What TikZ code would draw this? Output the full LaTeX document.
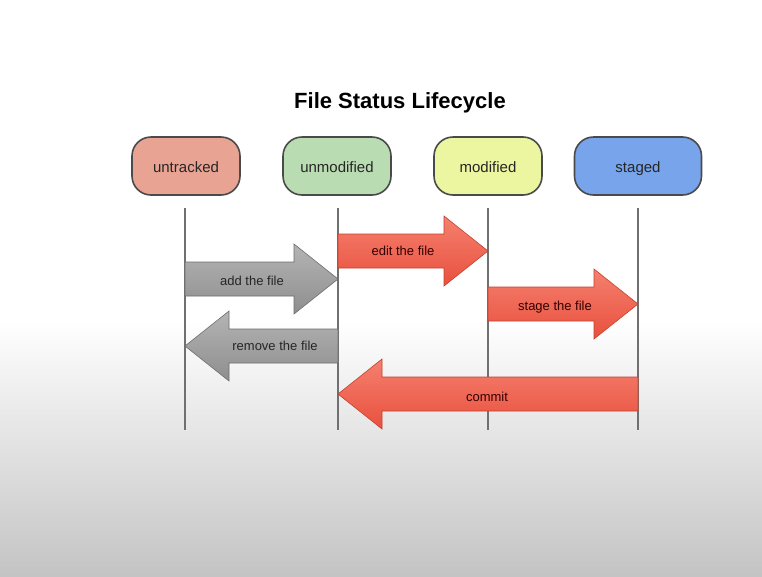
\documentclass[tikz,border=0pt]{standalone}
\usepackage{fontspec}
\setmainfont{Liberation Sans}
\definecolor{bgbot}{HTML}{C4C4C4}
\definecolor{boxborder}{HTML}{4A4A4A}
\definecolor{lifegray}{HTML}{707070}
\definecolor{untrackedc}{HTML}{E8A393}
\definecolor{unmodifiedc}{HTML}{BADCB2}
\definecolor{modifiedc}{HTML}{ECF5A0}
\definecolor{stagedc}{HTML}{78A4EC}
\definecolor{redtop}{HTML}{F5806E}
\definecolor{redbot}{HTML}{E9503E}
\definecolor{redborder}{HTML}{C4412F}
\definecolor{graytop}{HTML}{B4B4B4}
\definecolor{graybot}{HTML}{8E8E8E}
\definecolor{grayborder}{HTML}{6E6E6E}
\newcommand\fatarrow[5]{%
  \draw[#5] (#1,{#3-17}) -- ({#2-(#4)},{#3-17}) -- ({#2-(#4)},{#3-35}) -- (#2,#3)
    -- ({#2-(#4)},{#3+35}) -- ({#2-(#4)},{#3+17}) -- (#1,{#3+17}) -- cycle;}
\begin{document}
\begin{tikzpicture}[x=1pt,y=-1pt,
  state/.style={draw=boxborder, line width=1.6pt, rounded corners=19pt,
    minimum width=108pt, minimum height=58pt, inner sep=0pt,
    text height=12pt, text depth=0pt,
    font=\fontsize{15}{18}\selectfont, text=black!85},
  life/.style={draw=lifegray, line width=1.4pt},
  redarrow/.style={top color=redtop, bottom color=redbot, draw=redborder, line width=0.6pt},
  grayarrow/.style={top color=graytop, bottom color=graybot, draw=grayborder, line width=0.6pt},
  redlbl/.style={font=\fontsize{13}{15}\selectfont, text=black!80!red,
    text height=10pt, text depth=1pt},
  graylbl/.style={font=\fontsize{13}{15}\selectfont, text=black!85,
    text height=10pt, text depth=1pt},
  title/.style={font=\fontsize{22}{26}\selectfont\bfseries, text=black}]
\useasboundingbox (0,0) rectangle (762,576);
\fill[white] (0,0) rectangle (762,576);
\shade[top color=white, bottom color=bgbot] (0,320) rectangle (762,576);

\node[title] (title) at (400,103) {File Status Lifecycle};

\node[state, fill=untrackedc] (untracked) at (186,166) {untracked};
\node[state, fill=unmodifiedc] (unmodified) at (337,166) {unmodified};
\node[state, fill=modifiedc] (modified) at (488,166) {modified};
\node[state, fill=stagedc, minimum width=127pt] (staged) at (638,166) {staged};

\coordinate (u1) at (185,208); \coordinate (u2) at (185,430);
\coordinate (n1) at (338,208); \coordinate (n2) at (338,430);
\coordinate (m1) at (488,208); \coordinate (m2) at (488,430);
\coordinate (s1) at (638,208); \coordinate (s2) at (638,430);
\draw[life] (u1) -- (u2);
\draw[life] (n1) -- (n2);
\draw[life] (m1) -- (m2);
\draw[life] (s1) -- (s2);

\fatarrow{338}{488}{251}{44}{redarrow}
\node[redlbl] (edit) at (403,251) {edit the file};

\fatarrow{185}{338}{279}{44}{grayarrow}
\node[graylbl] (add) at (252,281) {add the file};

\fatarrow{488}{638}{304}{44}{redarrow}
\node[redlbl] (stage) at (555,306) {stage the file};

\fatarrow{338}{185}{346}{-44}{grayarrow}
\node[graylbl] (remove) at (275,346) {remove the file};

\fatarrow{638}{338}{394}{-44}{redarrow}
\node[redlbl] (commit) at (487,397) {commit};
\end{tikzpicture}
\end{document}
